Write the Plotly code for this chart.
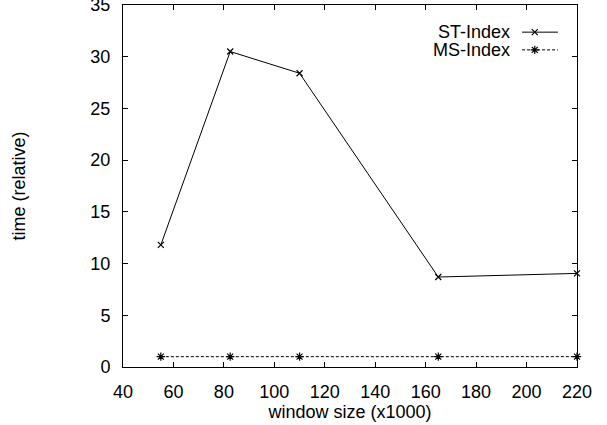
import plotly.graph_objects as go

window_size = [55, 82.5, 110, 165, 220]
st_index = [11.8, 30.5, 28.4, 8.7, 9.05]
ms_index = [1, 1, 1, 1, 1]

x_ticks = [40, 60, 80, 100, 120, 140, 160, 180, 200, 220]
y_ticks = [0, 5, 10, 15, 20, 25, 30, 35]

FONT = "Liberation Sans, Arial, Helvetica, sans-serif"
FS = 18

fig = go.Figure()
fig.add_trace(go.Scatter(
    x=window_size, y=st_index, mode="lines+markers", name="ST-Index",
    line=dict(color="black", width=1),
    marker=dict(symbol="x-thin", size=6, line=dict(color="black", width=1.2), color="black"),
    showlegend=False, cliponaxis=False))
fig.add_trace(go.Scatter(
    x=window_size, y=ms_index, mode="lines+markers", name="MS-Index",
    line=dict(color="black", width=1, dash="3px,2px"),
    marker=dict(symbol="asterisk-open", size=7, line=dict(color="black", width=1.2), color="black"),
    showlegend=False, cliponaxis=False))

# legend key samples on an overlay axis (fractions of plot area)
legend_names = ["ST-Index", "MS-Index"]
legend_y = [0.925, 0.876]
legend_dash = ["solid", "3px,2px"]
legend_sym = ["x-thin", "asterisk-open"]
for name, yy, dash, sym in zip(legend_names, legend_y, legend_dash, legend_sym):
    fig.add_trace(go.Scatter(
        x=[0.879, 0.958], y=[yy, yy], mode="lines", xaxis="x2", yaxis="y2",
        line=dict(color="black", width=1, dash=dash), showlegend=False, hoverinfo="skip"))
    fig.add_trace(go.Scatter(
        x=[0.907], y=[yy], mode="markers", xaxis="x2", yaxis="y2",
        marker=dict(symbol=sym, size=6 if sym == "x-thin" else 7,
                    line=dict(color="black", width=1.2), color="black"),
        showlegend=False, hoverinfo="skip"))
    fig.add_annotation(x=0.857, y=yy, xref="paper", yref="paper", text=name,
                       showarrow=False, xanchor="right", yanchor="middle",
                       font=dict(family=FONT, size=FS, color="black"))

axis_common = dict(
    showgrid=False, zeroline=False, showline=True, linecolor="black", linewidth=1,
    mirror="ticks", ticks="inside", ticklen=5, tickcolor="black", tickwidth=1,
    tickfont=dict(family=FONT, size=FS, color="black"), automargin=False,
    ticklabeloverflow="allow",
)

fig.update_layout(
    width=607, height=425,
    margin=dict(l=123, r=30, t=5, b=58),
    paper_bgcolor="white", plot_bgcolor="white",
    font=dict(family=FONT, size=FS, color="black"),
    xaxis=dict(range=[40, 220], tickvals=x_ticks, ticktext=[str(v) for v in x_ticks],
               ticklabelstandoff=8,
               title=dict(text="window size (x1000)", standoff=0,
                          font=dict(family=FONT, size=FS, color="black")),
               **axis_common),
    yaxis=dict(range=[0, 35], tickvals=y_ticks, ticktext=[str(v) for v in y_ticks],
               ticklabelstandoff=8,
               title=dict(text="time (relative)", standoff=60,
                          font=dict(family=FONT, size=FS, color="black")),
               **axis_common),
    xaxis2=dict(range=[0, 1], overlaying="x", visible=False, fixedrange=True),
    yaxis2=dict(range=[0, 1], overlaying="y", visible=False, fixedrange=True),
)

fig.write_html("out.html", config={"displayModeBar": False},
               post_script="document.body.style.margin='0';document.body.style.overflow='hidden';")
